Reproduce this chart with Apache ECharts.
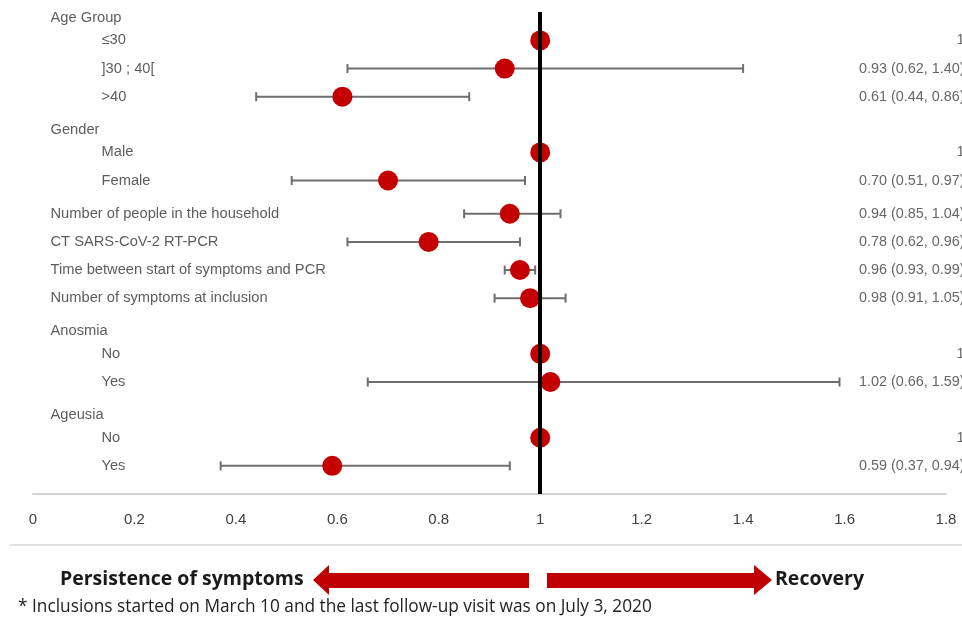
<!DOCTYPE html>
<html>
<head>
<meta charset="utf-8">
<title>Hazard ratios for recovery</title>
<script src="https://cdn.jsdelivr.net/npm/echarts@6/dist/echarts.min.js"></script>
<style>
  html, body { margin: 0; padding: 0; background: #ffffff; }
  #chart { width: 962px; height: 624px; }
</style>
</head>
<body>
<div id="chart"></div>
<script>
// Rows of the forest plot, top to bottom
const rowLabels = [
  'Age Group', '≤30', ']30 ; 40[', '>40',
  'Gender', 'Male', 'Female',
  'Number of people in the household',
  'CT SARS-CoV-2 RT-PCR',
  'Time between start of symptoms and PCR',
  'Number of symptoms at inclusion',
  'Anosmia', 'No', 'Yes',
  'Ageusia', 'No', 'Yes'
];
// 1 = sub-level of the group heading above it
const rowIndent = [0, 1, 1, 1, 0, 1, 1, 0, 0, 0, 0, 0, 1, 1, 0, 1, 1];

// Hazard ratio and 95% confidence interval (null = heading / reference)
const hazardRatio = [null, 1, 0.93, 0.61, null, 1, 0.70, 0.94, 0.78, 0.96, 0.98, null, 1, 1.02, null, 1, 0.59];
const ciLower     = [null, null, 0.62, 0.44, null, null, 0.51, 0.85, 0.62, 0.93, 0.91, null, null, 0.66, null, null, 0.37];
const ciUpper     = [null, null, 1.40, 0.86, null, null, 0.97, 1.04, 0.96, 0.99, 1.05, null, null, 1.59, null, null, 0.94];

// x-axis ticks
const xTicks = [0, 0.2, 0.4, 0.6, 0.8, 1, 1.2, 1.4, 1.6, 1.8];
const nullValue = 1;

const footnote = '* Inclusions started on March 10 and the last follow-up visit was on July 3, 2020';
const leftCaption = 'Persistence of symptoms';
const rightCaption = 'Recovery';

function fmt(v) { return v.toFixed(2); }
const rightText = hazardRatio.map((hr, i) => {
  if (hr === null) return '';
  if (ciLower[i] === null) return String(hr);
  return fmt(hr) + ' (' + fmt(ciLower[i]) + ', ' + fmt(ciUpper[i]) + ')';
});

// Vertical layout in row units: headings sit a little closer to their
// sub-rows, and a new block starts with a slightly larger gap.
const isHeading = rowIndent.map((d, i) => d === 0 && rowIndent[i + 1] === 1);
const rowPos = [];
rowIndent.forEach((d, i) => {
  if (i === 0) { rowPos.push(0); return; }
  let gap = 1;
  if (isHeading[i - 1]) gap = 0.8;
  else if (isHeading[i] || (d === 0 && rowIndent[i - 1] === 1)) gap = 1.18;
  rowPos.push(rowPos[i - 1] + gap);
});
const yMin = -0.21;
const yMax = rowPos[rowPos.length - 1] + 1;

const xMin = xTicks[0];
const xMax = xTicks[xTicks.length - 1];
const xStep = xTicks[1] - xTicks[0];

const barData = [];
const pointData = [];
hazardRatio.forEach((hr, i) => {
  if (hr !== null) pointData.push([hr, rowPos[i]]);
  if (ciLower[i] !== null) barData.push([ciLower[i], ciUpper[i], rowPos[i]]);
});

const leftLabelData = rowLabels.map((name, i) => ({
  value: [xMin, rowPos[i]],
  label: { distance: rowIndent[i] ? 68 : 17 }
}));
const rightLabelData = rightText.map((t, i) => [xMax, rowPos[i]]);

const textFont = '"Liberation Sans", Arial, sans-serif';
const captionFont = '"Open Sans", "Liberation Sans", sans-serif';

const chart = echarts.init(document.getElementById('chart'), null, { renderer: 'canvas' });

chart.setOption({
  animation: false,
  backgroundColor: '#ffffff',
  grid: { left: 33, right: 16, top: 12, bottom: 130, containLabel: false },
  xAxis: {
    type: 'value',
    min: xMin,
    max: xMax,
    interval: xStep,
    axisLine: { show: true, onZero: false, lineStyle: { color: '#d2d2d2', width: 2 } },
    axisTick: { show: false },
    splitLine: { show: false },
    axisLabel: {
      color: '#404040',
      fontSize: 15,
      fontFamily: textFont,
      margin: 18,
      formatter: v => String(+v.toFixed(1))
    }
  },
  yAxis: {
    type: 'value',
    inverse: true,
    min: yMin,
    max: yMax,
    show: false
  },
  series: [
    {
      // confidence interval whiskers
      type: 'custom',
      z: 2,
      data: barData,
      encode: { x: [0, 1], y: 2 },
      renderItem: function (params, api) {
        const y = api.value(2);
        const a = api.coord([api.value(0), y]);
        const b = api.coord([api.value(1), y]);
        const cap = 4.5;
        const style = { stroke: '#6e6e6e', lineWidth: 2 };
        return {
          type: 'group',
          children: [
            { type: 'line', shape: { x1: a[0], y1: a[1], x2: b[0], y2: b[1] }, style: style },
            { type: 'line', shape: { x1: a[0], y1: a[1] - cap, x2: a[0], y2: a[1] + cap }, style: style },
            { type: 'line', shape: { x1: b[0], y1: b[1] - cap, x2: b[0], y2: b[1] + cap }, style: style }
          ]
        };
      }
    },
    {
      // line of no effect
      type: 'line',
      z: 3,
      data: [],
      markLine: {
        silent: true,
        symbol: 'none',
        label: { show: false },
        lineStyle: { color: '#000000', width: 4, type: 'solid' },
        data: [{ xAxis: nullValue }]
      }
    },
    {
      // point estimates
      type: 'scatter',
      z: 4,
      data: pointData,
      symbol: 'circle',
      symbolSize: 20,
      itemStyle: { color: '#c40000', opacity: 1 },
      clip: false
    },
    {
      // row names
      type: 'scatter',
      z: 5,
      silent: true,
      clip: false,
      data: leftLabelData,
      symbolSize: 1,
      itemStyle: { color: 'rgba(0,0,0,0)' },
      label: {
        show: true,
        position: 'right',
        color: '#333333',
        fontSize: 14.7,
        fontFamily: textFont,
        formatter: p => rowLabels[p.dataIndex]
      }
    },
    {
      // HR (95% CI) column
      type: 'scatter',
      z: 5,
      silent: true,
      clip: false,
      data: rightLabelData,
      symbolSize: 1,
      itemStyle: { color: 'rgba(0,0,0,0)' },
      label: {
        show: true,
        position: 'left',
        distance: 0,
        offset: [19, 0],
        color: '#404040',
        fontSize: 14.4,
        fontFamily: textFont,
        formatter: p => rightText[p.dataIndex]
      }
    }
  ],
  graphic: [
    {
      type: 'line',
      shape: { x1: 10, y1: 545, x2: 962, y2: 545 },
      style: { stroke: '#e2e2e2', lineWidth: 2 },
      silent: true
    },
    {
      type: 'polygon',
      shape: { points: [[313, 580], [329, 565], [329, 573], [529, 573], [529, 588], [329, 588], [329, 595]] },
      style: { fill: '#c00000' },
      silent: true
    },
    {
      type: 'polygon',
      shape: { points: [[547, 573], [754, 573], [754, 565], [772, 580], [754, 595], [754, 588], [547, 588]] },
      style: { fill: '#c00000' },
      silent: true
    },
    {
      type: 'text',
      left: 60,
      top: 569,
      style: { text: leftCaption, fill: '#1a1a1a', font: 'bold 19.5px ' + captionFont },
      silent: true
    },
    {
      type: 'text',
      left: 775,
      top: 569,
      style: { text: rightCaption, fill: '#1a1a1a', font: 'bold 19.5px ' + captionFont },
      silent: true
    },
    {
      type: 'text',
      left: 18,
      top: 599,
      style: { text: footnote, fill: '#222222', font: '17.3px ' + captionFont },
      silent: true
    }
  ]
});
</script>
</body>
</html>
